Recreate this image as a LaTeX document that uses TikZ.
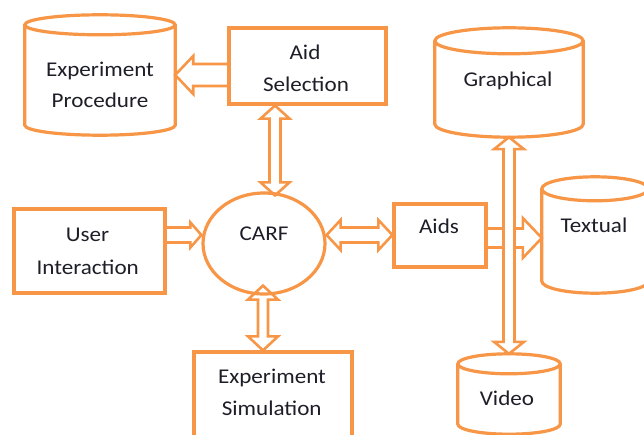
\documentclass[tikz,border=0pt]{standalone}
\usepackage{fontspec}
\setmainfont{Carlito}[FakeStretch=1.1]
\usetikzlibrary{shapes.geometric,calc}
\definecolor{orng}{RGB}{247,150,70}
\definecolor{ink}{RGB}{30,30,40}
\tikzset{
  boxln/.style={draw=orng, line width=3.2pt},
  boxnode/.style={boxln, rectangle, inner sep=0pt, fill=white},
  cylnode/.style={rectangle, inner sep=0pt},
  txt/.style={anchor=base, inner sep=0pt, text=ink, font=\fontsize{21}{31}\selectfont},
  arrline/.style={draw=orng, line width=2.6pt, line join=miter, miter limit=4},
}
% single-headed hollow block arrow: #2 from, #3 to, #4 half shaft, #5 half head, #6 head length
\newcommand\arrprep[2]{%
  \path let \p1=(#1), \p2=(#2) in
    \pgfextra{\pgfmathsetmacro\tA{atan2(\y2-\y1,\x2-\x1)}%
      \pgfmathsetmacro\tD{veclen(\x2-\x1,\y2-\y1)}%
      \xdef\arA{\tA}\xdef\arD{\tD}\xdef\arX{\x1}\xdef\arY{\y1}};}
\newcommand\sarrow[6][]{%
  \arrprep{#2}{#3}%
  \draw[arrline,#1,shift={(\arX,\arY)},rotate=\arA]
    (0pt,#4pt) -- (\arD pt-#6pt,#4pt) -- (\arD pt-#6pt,#5pt) -- (\arD pt,0pt)
    -- (\arD pt-#6pt,-#5pt) -- (\arD pt-#6pt,-#4pt) -- (0pt,-#4pt);}
\newcommand\darrow[6][]{%
  \arrprep{#2}{#3}%
  \draw[arrline,#1,shift={(\arX,\arY)},rotate=\arA]
    (0pt,0pt) -- (#6pt,#5pt) -- (#6pt,#4pt) -- (\arD pt-#6pt,#4pt) -- (\arD pt-#6pt,#5pt)
    -- (\arD pt,0pt) -- (\arD pt-#6pt,-#5pt) -- (\arD pt-#6pt,-#4pt) -- (#6pt,-#4pt)
    -- (#6pt,-#5pt) -- cycle;}
% cylinder drawn in the box of node #1 with ellipse half height #2
\newcommand\drawcyl[2]{%
  \draw[boxln, fill=white] let \p1=(#1.north west), \p2=(#1.south east),
      \n1={(\x2-\x1)/2} in
    (\x1,\y1-#2pt) -- (\x1,\y2+#2pt)
      arc[start angle=180, end angle=360, x radius=\n1, y radius=#2pt]
      -- (\x2,\y1-#2pt)
      arc[start angle=0, end angle=180, x radius=\n1, y radius=#2pt] -- cycle
    (\x1,\y1-#2pt)
      arc[start angle=180, end angle=360, x radius=\n1, y radius=#2pt];}
\begin{document}
\begin{tikzpicture}[x=1pt,y=-1pt]
\useasboundingbox (0,0) rectangle (644,435);
% shapes
\node[cylnode, minimum width=150pt, minimum height=120pt] (proc) at (100,75) {};
\drawcyl{proc}{10}
\node[cylnode, minimum width=148pt, minimum height=109pt] (graph) at (509,82.5) {};
\drawcyl{graph}{13}
\node[cylnode, minimum width=106pt, minimum height=116pt] (textual) at (595,235) {};
\drawcyl{textual}{12}
\node[cylnode, minimum width=102pt, minimum height=80pt] (video) at (509,394) {};
\drawcyl{video}{10}
\node[boxnode, minimum width=157pt, minimum height=76pt] (aidsel) at (307.5,66) {};
\node[boxnode, minimum width=151pt, minimum height=84pt] (user) at (89.5,251) {};
\node[boxnode, minimum width=92pt, minimum height=63pt] (aids) at (440,235.5) {};
\node[boxnode, minimum width=158pt, minimum height=86pt] (sim) at (273,395) {};
\node[boxln, ellipse, inner sep=0pt, fill=white, minimum width=122pt, minimum height=101pt] (carf) at (264,243.5) {};
% texts
\node[txt] (t1) at (100,77) {Experiment};
\node[txt] (t2) at (100,108) {Procedure};
\node[txt] (t3) at (305,60) {Aid};
\node[txt] (t4) at (306,92) {Selection};
\node[txt] (t5) at (508,87) {Graphical};
\node[txt] (t6) at (87.5,242) {User};
\node[txt] (t7) at (87.7,274) {Interaction};
\node[txt] (t8) at (264,241) {CARF};
\node[txt] (t9) at (439,234) {Aids};
\node[txt] (t10) at (594,233) {Textual};
\node[txt] (t11) at (507,405) {Video};
\node[txt] (t12) at (272,383) {Experiment};
\node[txt] (t13) at (271.7,415) {Simulation};
% connector end points
\coordinate (c1) at ([yshift=-9pt]aidsel.west);
\coordinate (c1b) at (c1 -| proc.east);
\coordinate (c2) at ([xshift=-32.5pt]aidsel.south);
\coordinate (c2m) at (c2 |- carf.north);
\coordinate (c2b) at ([yshift=-4pt]c2m);
\coordinate (c3) at ([yshift=16pt]user.east);
\coordinate (c3b) at (c3 -| carf.west);
\coordinate (c4) at ([yshift=8.5pt]carf.east);
\coordinate (c4b) at (c4 -| aids.west);
\coordinate (c5) at ([xshift=-10pt]sim.north);
\coordinate (c5m) at (c5 |- carf.south);
\coordinate (c5b) at ([yshift=10pt]c5m);
\coordinate (c6) at ([yshift=-2.5pt]aids.east);
\coordinate (c6b) at (c6 -| textual.west);
% connectors
\sarrow{c1}{c1b}{11}{19}{18}
\darrow{c2}{c2b}{5.5}{14.5}{13}
\sarrow{c3}{c3b}{7.5}{12.5}{11}
\darrow{c4}{c4b}{7.5}{15}{14}
\darrow{c5b}{c5}{5}{15}{14}
\sarrow{c6}{c6b}{9.5}{20}{19}
\darrow[fill=white]{graph.south}{video.north}{5.5}{15}{12}
\end{tikzpicture}
\end{document}
